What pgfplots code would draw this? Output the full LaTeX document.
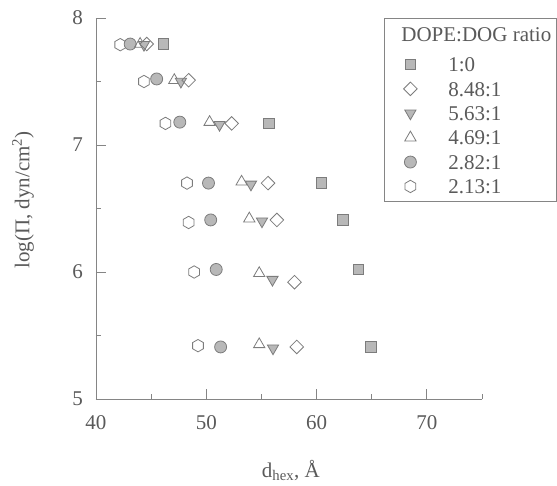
\documentclass[border=0pt]{standalone}
\usepackage{fontspec}
\setmainfont{Liberation Serif}
\usepackage{pgfplots}
\pgfplotsset{compat=1.18}
\definecolor{txt}{HTML}{5A5A5A}
\definecolor{axc}{HTML}{858585}
\definecolor{mkedge}{HTML}{7C7C7C}
\definecolor{mkfill}{HTML}{B8B8B8}
\pgfdeclareplotmark{hexagon}{%
  \pgfpathmoveto{\pgfqpointpolar{90}{\pgfplotmarksize}}%
  \pgfpathlineto{\pgfqpointpolar{150}{\pgfplotmarksize}}%
  \pgfpathlineto{\pgfqpointpolar{210}{\pgfplotmarksize}}%
  \pgfpathlineto{\pgfqpointpolar{270}{\pgfplotmarksize}}%
  \pgfpathlineto{\pgfqpointpolar{330}{\pgfplotmarksize}}%
  \pgfpathlineto{\pgfqpointpolar{30}{\pgfplotmarksize}}%
  \pgfpathclose
  \pgfusepathqfillstroke}
\pgfplotsset{
  lg/.style={legend image code/.code={%
    \path[draw=none] (0pt,0pt) (59pt,0pt);
    \draw[##1] plot coordinates {(21pt,0pt)};}},
}
\begin{document}
\fontsize{21}{25}\selectfont
\begin{tikzpicture}
\useasboundingbox (-96pt,-86pt) rectangle (461pt,399pt);
\begin{axis}[
  scale only axis,
  width=386pt, height=381pt,
  xmin=40, xmax=75, ymin=5, ymax=8,
  axis lines*=left,
  axis line style={draw=axc, line width=0.9pt},
  every tick/.style={draw=axc, line width=0.9pt},
  tick align=inside,
  major tick length=10pt, minor tick length=5pt,
  xtick={40,50,60,70}, minor xtick={45,55,65,75},
  ytick={5,6,7,8}, minor ytick={5.5,6.5,7.5},
  /pgf/number format/assume math mode=true,
  tick label style={text=txt, font=\fontsize{21}{25}\selectfont},
  xticklabel style={yshift=-9pt},
  yticklabel style={xshift=-6pt},
  xlabel={d\textsubscript{hex}, Å},
  ylabel={log(Π, dyn/cm\textsuperscript{2})},
  label style={text=txt, font=\fontsize{21}{25}\selectfont},
  xlabel style={at={(axis description cs:0.505,-0.207)}, anchor=base},
  ylabel style={at={(axis description cs:-0.189,0.522)}, anchor=center, rotate=0},
  reverse legend,
  legend cell align=left,
  legend style={at={(rel axis cs:0.746,1)}, anchor=north west,
    draw=axc, line width=0.9pt, text=txt, font=\fontsize{21}{25}\selectfont,
    inner xsep=5pt, inner ysep=3pt,
    nodes={inner sep=0pt, text height=19.4pt, text depth=5pt},
    /tikz/column sep=0pt, /tikz/row sep=0pt},
  every axis plot/.append style={line width=0.8pt},
]
% 2.13:1 hexagon
\addplot[only marks, mark=hexagon, mark size=6.2pt, draw=mkedge, fill=white, lg] coordinates {
(42.2,7.79) (44.35,7.50) (46.3,7.17) (48.25,6.70) (48.4,6.39) (48.9,6.00) (49.25,5.42)};
\addlegendentry{2.13:1}
% 2.82:1 filled circle
\addplot[only marks, mark=*, mark size=6pt, draw=mkedge, fill=mkfill, lg] coordinates {
(43.1,7.795) (45.5,7.52) (47.6,7.18) (50.2,6.70) (50.4,6.41) (50.9,6.02) (51.3,5.41)};
\addlegendentry{2.82:1}
% 4.69:1 triangle up
\addplot[only marks, mark=triangle, mark size=6.5pt, draw=mkedge, fill=white, lg] coordinates {
(44.0,7.795) (47.1,7.51) (50.3,7.18) (53.2,6.71) (53.9,6.42) (54.8,5.99) (54.8,5.43)};
\addlegendentry{4.69:1}
% 5.63:1 triangle down
\addplot[only marks, mark=triangle*, mark size=6.5pt, mark options={rotate=180}, draw=mkedge, fill=mkfill, lg] coordinates {
(44.35,7.79) (47.7,7.50) (51.2,7.16) (54.05,6.69) (55.05,6.40) (56.0,5.94) (56.05,5.40)};
\addlegendentry{5.63:1}
% 8.48:1 diamond
\addplot[only marks, mark=square, mark size=4.8pt, mark options={rotate=45}, draw=mkedge, fill=white, lg] coordinates {
(44.6,7.795) (48.4,7.51) (52.3,7.17) (55.6,6.70) (56.4,6.41) (58.0,5.92) (58.2,5.41)};
\addlegendentry{8.48:1}
% 1:0 square
\addplot[only marks, mark=square*, mark size=5.3pt, draw=mkedge, fill=mkfill, lg] coordinates {
(46.1,7.795) (55.7,7.17) (60.45,6.70) (62.4,6.41) (63.8,6.02) (64.9,5.41)};
\addlegendentry{1:0}
\addlegendimage{empty legend}
\addlegendentry[text height=20pt, text depth=10.8pt]{\hspace*{-47pt}DOPE:DOG ratio}
\end{axis}
\end{tikzpicture}
\end{document}
